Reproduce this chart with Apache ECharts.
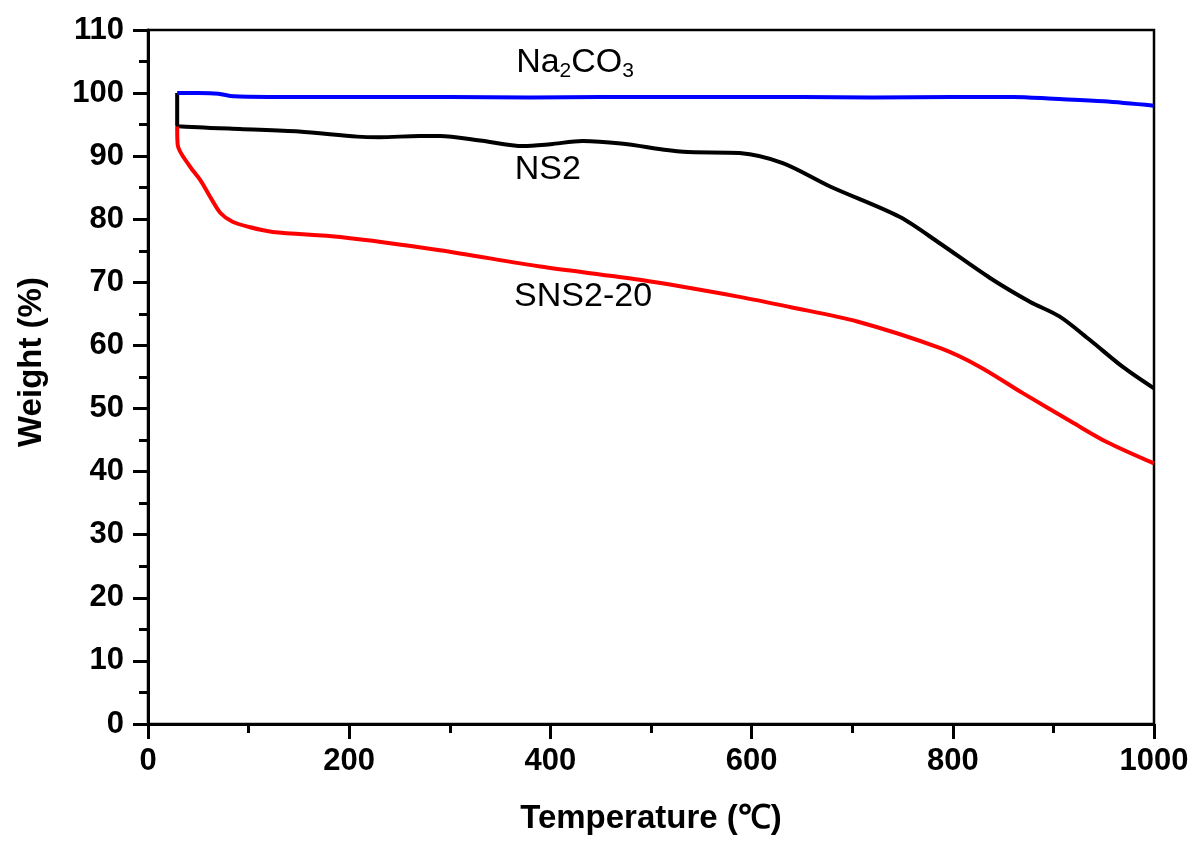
<!DOCTYPE html>
<html>
<head>
<meta charset="utf-8">
<script src="https://cdn.jsdelivr.net/npm/echarts@6/dist/echarts.min.js"></script>
<style>
  html, body { margin: 0; padding: 0; background: #fff; }
  #chart { width: 1197px; height: 844px; }
</style>
</head>
<body>
<div id="chart"></div>
<script>
// TGA curves: temperature (°C) vs remaining weight (%)
const na2co3Temp = [29, 29, 50, 70, 85, 120, 200, 300, 380, 450, 550, 650, 720, 800, 860, 900, 950, 1000];
const na2co3Wt   = [100, 100, 100, 99.9, 99.5, 99.4, 99.4, 99.4, 99.3, 99.4, 99.4, 99.4, 99.3, 99.4, 99.4, 99.1, 98.7, 98.0];

const ns2Temp = [29, 29, 50, 91, 150, 208, 230, 270, 290, 330, 373, 400, 432, 470, 532, 588, 631, 678, 747, 787, 837, 877, 906, 936, 969, 1000];
const ns2Wt   = [100, 94.9, 94.6, 94.3, 93.9, 93.1, 93.0, 93.2, 93.2, 92.5, 91.6, 91.9, 92.4, 92.0, 90.7, 90.5, 88.9, 85.2, 80.4, 76.2, 70.7, 66.9, 64.6, 60.9, 56.6, 53.2];

const sns2Temp = [29, 29.5, 42, 52, 62, 72, 84, 100, 124, 191, 290, 390, 489, 588, 638, 705, 787, 827, 870, 920, 953, 1000];
const sns2Wt   = [94.7, 91.8, 88.3, 86.2, 83.5, 81.0, 79.6, 78.8, 78.0, 77.2, 75.1, 72.5, 70.4, 67.7, 66.1, 63.8, 59.6, 56.6, 52.4, 47.7, 44.7, 41.3];

// Curve labels: [temperature, weight, text]
const curveLabels = [
  [425, 104.8, '{n|Na}{s|2}{n|CO}{s|3}'],
  [398, 87.8, '{n|NS2}'],
  [433, 67.7, '{n|SNS2-20}']
];

const xTicks = { min: 0, max: 1000, interval: 200 };
const yTicks = { min: 0, max: 110, interval: 10 };

const pair = (xs, ys) => xs.map((x, i) => [x, ys[i]]);

const FONT = 'Liberation Sans, Arial, sans-serif';
const chart = echarts.init(document.getElementById('chart'));

const tickLabelStyle = {
  color: '#000',
  fontFamily: FONT,
  fontWeight: 'bold',
  fontSize: 31,
  formatter: v => String(v)
};
const axisNameStyle = { color: '#000', fontFamily: FONT, fontWeight: 'bold', fontSize: 33 };
const axisLineStyle = { color: '#000', width: 3 };

chart.setOption({
  animation: false,
  backgroundColor: '#fff',
  grid: {
    left: 148, right: 43, top: 30, bottom: 120,
    show: true, borderColor: '#000', borderWidth: 2.5
  },
  xAxis: {
    type: 'value',
    min: xTicks.min, max: xTicks.max, interval: xTicks.interval,
    name: 'Temperature (℃)',
    nameLocation: 'middle',
    nameGap: 78,
    nameTextStyle: axisNameStyle,
    axisLine: { onZero: false, lineStyle: axisLineStyle },
    axisTick: { inside: false, length: 15, lineStyle: axisLineStyle },
    minorTick: { show: true, splitNumber: 2, length: 9, lineStyle: axisLineStyle },
    axisLabel: Object.assign({ margin: 22 }, tickLabelStyle),
    splitLine: { show: false }
  },
  yAxis: {
    type: 'value',
    min: yTicks.min, max: yTicks.max, interval: yTicks.interval,
    name: 'Weight (%)',
    nameLocation: 'middle',
    nameGap: 100,
    nameTextStyle: Object.assign({ padding: [0, 0, 0, 30] }, axisNameStyle),
    axisLine: { onZero: false, lineStyle: axisLineStyle },
    axisTick: { inside: false, length: 15, lineStyle: axisLineStyle },
    minorTick: { show: true, splitNumber: 2, length: 9, lineStyle: axisLineStyle },
    axisLabel: Object.assign({ margin: 24 }, tickLabelStyle),
    splitLine: { show: false }
  },
  series: [
    {
      name: 'Na2CO3', type: 'line', smooth: 0.3, symbol: 'none',
      lineStyle: { color: '#0000ff', width: 4 },
      data: pair(na2co3Temp, na2co3Wt), z: 3
    },
    {
      name: 'NS2', type: 'line', smooth: 0.3, symbol: 'none',
      lineStyle: { color: '#000000', width: 4 },
      data: pair(ns2Temp, ns2Wt), z: 2
    },
    {
      name: 'SNS2-20', type: 'line', smooth: 0.3, symbol: 'none',
      lineStyle: { color: '#ff0000', width: 4 },
      data: pair(sns2Temp, sns2Wt), z: 2
    },
    {
      // curve name annotations
      type: 'scatter', symbolSize: 1, silent: true,
      itemStyle: { color: 'rgba(0,0,0,0)' },
      data: curveLabels.map(d => ({ value: [d[0], d[1]], text: d[2] })),
      label: {
        show: true, position: [0, 0], align: 'center', verticalAlign: 'middle',
        color: '#000', opacity: 1,
        formatter: p => p.data.text,
        rich: {
          n: { fontFamily: FONT, fontSize: 34, color: '#000' },
          s: { fontFamily: FONT, fontSize: 21, color: '#000', padding: [18, 0, 0, 0] }
        }
      }
    }
  ]
});
</script>
</body>
</html>
